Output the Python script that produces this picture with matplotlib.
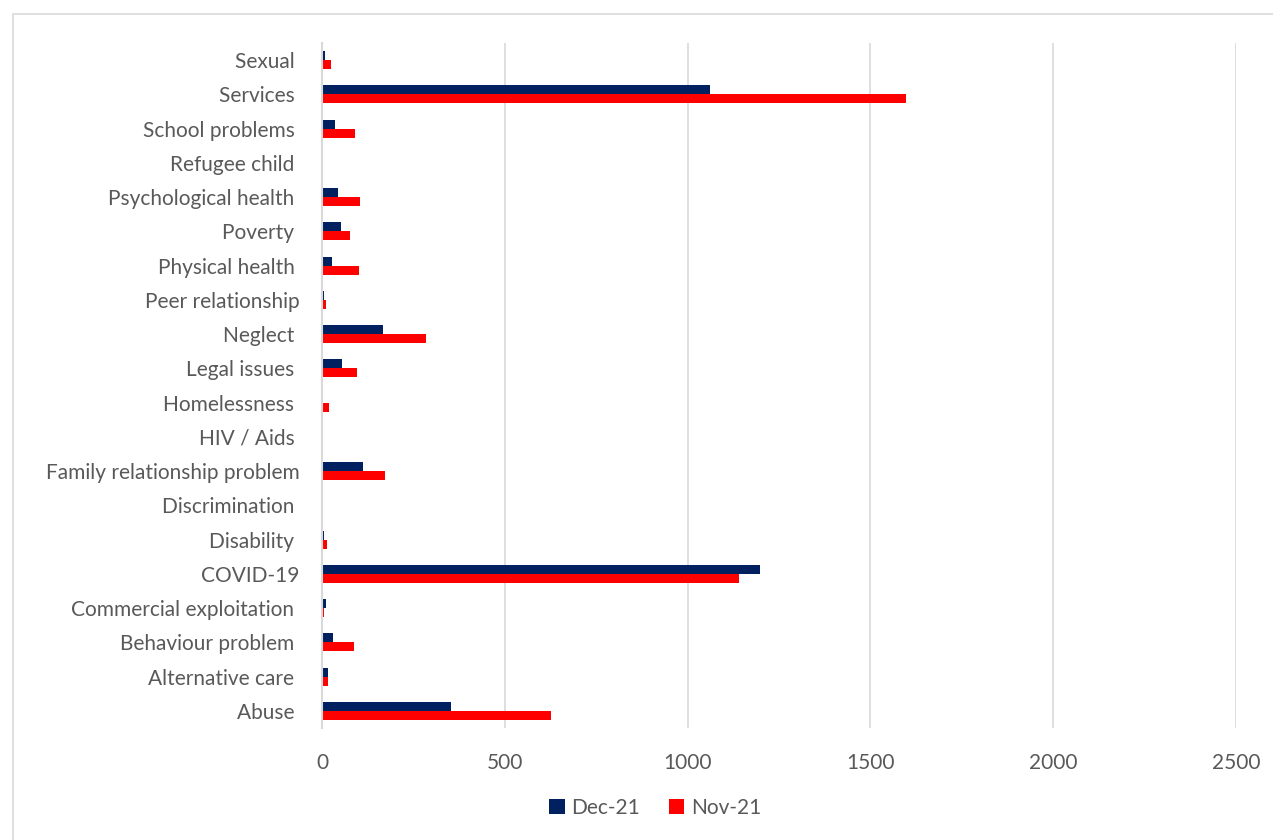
import matplotlib.pyplot as plt
import numpy as np
from matplotlib.patches import Rectangle

# categories from bottom (Abuse) to top (Sexual)
categories = ['Abuse ', 'Alternative care ', 'Behaviour problem ', 'Commercial exploitation ',
              'COVID-19', 'Disability ', 'Discrimination ', 'Family relationship problem',
              'HIV / Aids ', 'Homelessness ', 'Legal issues ', 'Neglect ', 'Peer relationship',
              'Physical health ', 'Poverty ', 'Psychological health ', 'Refugee child ',
              'School problems ', 'Services ', 'Sexual ']
dec21 = [353, 16, 31, 10, 1198, 5, 0, 111, 2, 1, 54, 168, 5, 26, 53, 45, 0, 35, 1061, 8]
nov21 = [626, 16, 88, 5, 1141, 13, 0, 171, 1, 19, 97, 285, 11, 100, 77, 103, 0, 90, 1598, 24]
xticks = [0, 500, 1000, 1500, 2000, 2500]

plt.rcParams['font.family'] = ['Lato', 'DejaVu Sans']
txt = '#595959'

fig = plt.figure(figsize=(12.73, 8.4), dpi=100)
fig.patches.append(Rectangle((13 / 1273, -0.01), 1.0, 1 - 14 / 840 + 0.01,
                             transform=fig.transFigure, fill=False,
                             edgecolor='#d9d9d9', lw=1.2))
ax = fig.add_axes([322 / 1273, 1 - 728 / 840, (1236 - 322) / 1273, (728 - 43) / 840])

y = np.arange(len(categories))
h = 0.26
ax.barh(y + h / 2, dec21, height=h, color='#002060', label='Dec-21')
ax.barh(y - h / 2, nov21, height=h, color='#ff0000', label='Nov-21')

ax.set_xlim(0, 2500)
ax.set_ylim(-0.5, len(categories) - 0.5)
ax.set_xticks(xticks)
ax.set_yticks(y)
ax.set_yticklabels(categories)
ax.tick_params(axis='y', length=0, pad=16, labelsize=15, labelcolor=txt)
ax.tick_params(axis='x', length=0, pad=18, labelsize=15, labelcolor=txt)
ax.grid(axis='x', color='#d9d9d9', lw=1.2)
ax.set_axisbelow(True)
for s in ['top', 'right', 'bottom']:
    ax.spines[s].set_visible(False)
ax.spines['left'].set_color('#d9d9d9')
ax.spines['left'].set_linewidth(1.5)

leg = fig.legend(loc='center', bbox_to_anchor=(655 / 1273, 1 - 808 / 840), ncol=2,
                 frameon=False, fontsize=15, handlelength=0.75, handleheight=0.75,
                 columnspacing=1.4, handletextpad=0.3)
for t in leg.get_texts():
    t.set_color(txt)

fig.savefig('out.png', dpi=100)
